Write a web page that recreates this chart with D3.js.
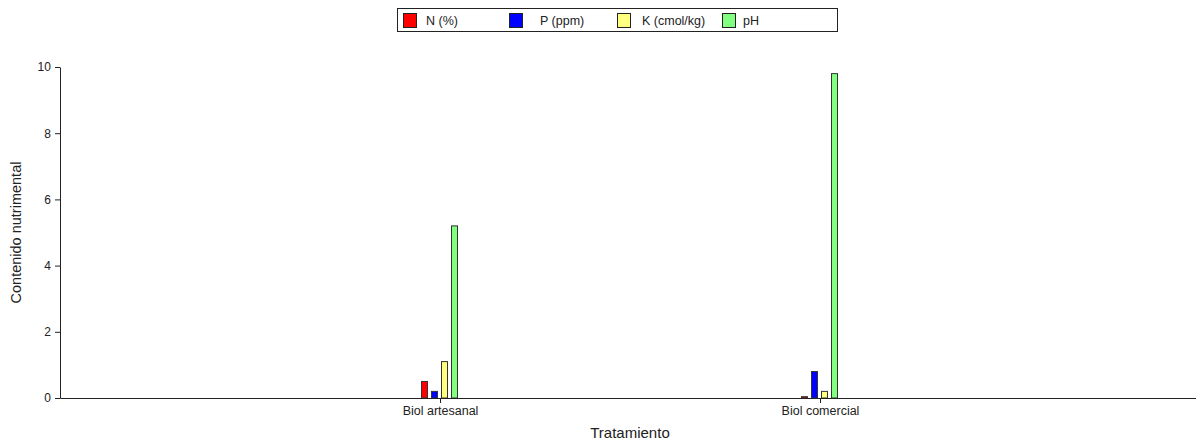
<!DOCTYPE html>
<html>
<head>
<meta charset="utf-8">
<script src="https://cdn.jsdelivr.net/npm/d3@7"></script>
<style>
  body { margin: 0; background: #fff; }
  svg { display: block; font-family: "Liberation Sans", Arial, sans-serif; }
</style>
</head>
<body>
<svg id="chart" width="1196" height="443"></svg>
<script>
// Nutrient content per treatment
const categories = ["Biol artesanal", "Biol comercial"];
const seriesNames = ["N (%)", "P (ppm)", "K (cmol/kg)", "pH"];
const seriesColors = ["#ff0000", "#0000ff", "#ffff80", "#80ff80"];
const valuesN = [0.5, 0.04];
const valuesP = [0.2, 0.8];
const valuesK = [1.1, 0.2];
const valuesPH = [5.2, 9.8];
const yTicks = [0, 2, 4, 6, 8, 10];

const seriesValues = [valuesN, valuesP, valuesK, valuesPH];

const svg = d3.select("#chart");
const W = 1196;
const left = 60;

const x = d3.scalePoint().domain(categories).range([left, 1200]).padding(1);
const y = d3.scaleLinear().domain([0, 10]).range([398, 67]);

const barW = 6, barStep = 10;
const inner = d3.scaleBand().domain(seriesNames).range([-2 * barStep, 2 * barStep]);

// Bars
categories.forEach((cat, ci) => {
  seriesNames.forEach((s, si) => {
    const v = seriesValues[si][ci];
    svg.append("rect")
      .attr("x", Math.round(x(cat) + inner(s) + 1) + 0.5)
      .attr("y", y(v))
      .attr("width", barW)
      .attr("height", y(0) - y(v))
      .attr("fill", seriesColors[si])
      .attr("stroke", "#333")
      .attr("stroke-width", 1);
  });
});

// Y axis
const yAxis = svg.append("g")
  .attr("transform", `translate(${left},0)`)
  .call(d3.axisLeft(y).tickValues(yTicks).tickSize(5).tickSizeOuter(0).tickFormat(d3.format("d")));
yAxis.select(".domain").attr("stroke", "#222");
yAxis.selectAll(".tick line").attr("stroke", "#222");
yAxis.selectAll("text").attr("font-size", 12).attr("fill", "#222").attr("dx", "-0.1em");

// X axis
const xAxis = svg.append("g")
  .attr("transform", `translate(0,${y(0)})`)
  .call(d3.axisBottom(x).tickSize(5).tickSizeOuter(0));
xAxis.select(".domain").attr("stroke", "#222");
xAxis.selectAll(".tick line").attr("stroke", "#222");
xAxis.selectAll("text").attr("font-size", 12.5).attr("fill", "#222").attr("dy", "0.75em");

// Axis titles
svg.append("text")
  .attr("transform", `translate(21,${(y(0) + y(10)) / 2}) rotate(-90)`)
  .attr("text-anchor", "middle")
  .attr("font-size", 14.5)
  .attr("fill", "#222")
  .text("Contenido nutrimental");

svg.append("text")
  .attr("x", (x(categories[0]) + x(categories[1])) / 2)
  .attr("y", 438)
  .attr("text-anchor", "middle")
  .attr("font-size", 15)
  .attr("fill", "#222")
  .text("Tratamiento");

// Legend
const legend = svg.append("g");
legend.append("rect")
  .attr("x", 397.5).attr("y", 8.5)
  .attr("width", 440).attr("height", 23)
  .attr("fill", "#fff").attr("stroke", "#222").attr("stroke-width", 1);
const legendX = [403, 509, 617, 722];
const legendTextX = [426, 540, 642, 743];
seriesNames.forEach((s, i) => {
  legend.append("rect")
    .attr("x", legendX[i] + 0.5).attr("y", 13.5)
    .attr("width", 13).attr("height", 14)
    .attr("fill", seriesColors[i]).attr("stroke", "#222");
  legend.append("text")
    .attr("x", legendTextX[i]).attr("y", 24.5)
    .attr("font-size", 12.5).attr("fill", "#222")
    .text(s);
});
</script>
</body>
</html>
